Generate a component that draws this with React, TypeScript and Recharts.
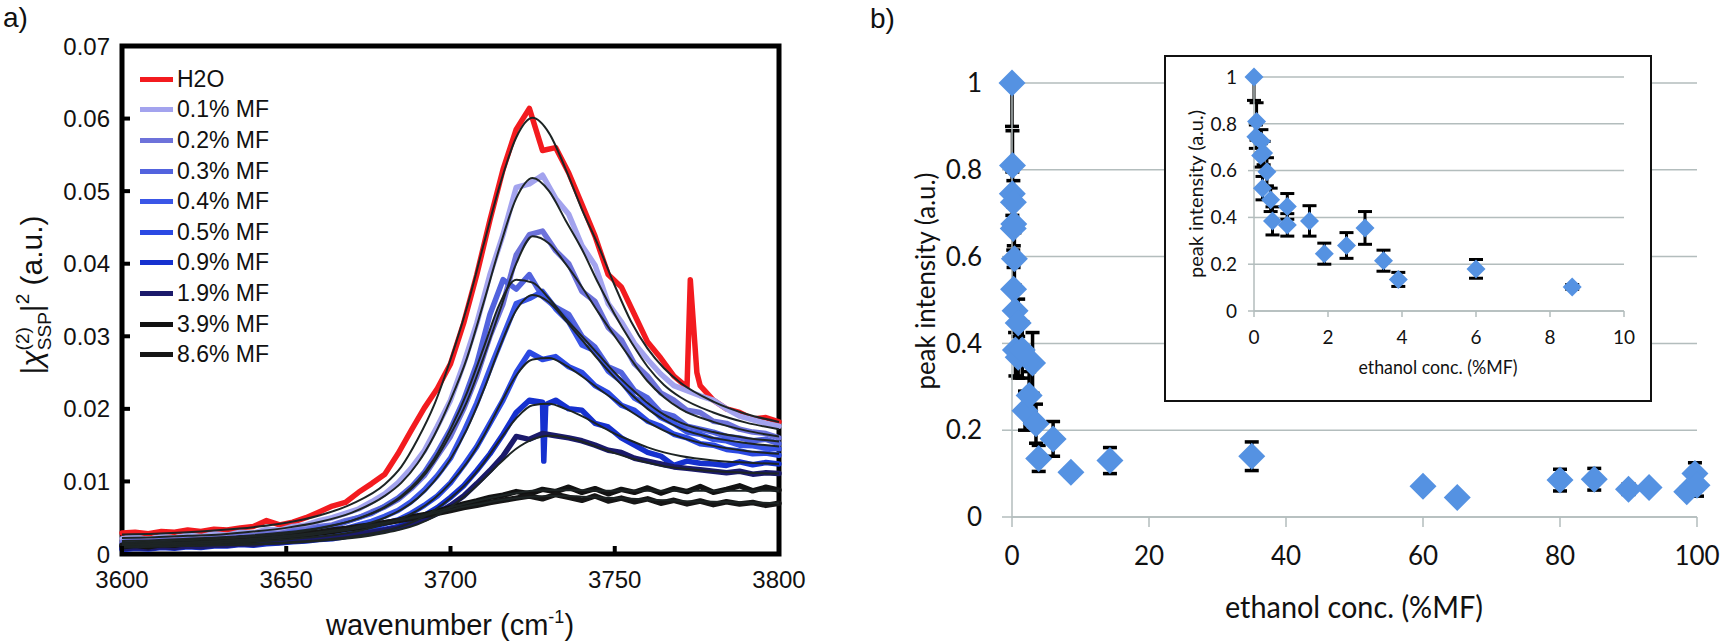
import React from 'react';
import { LineChart, Line, XAxis, YAxis, ScatterChart, Scatter, ErrorBar, CartesianGrid, ReferenceArea } from 'recharts';

// ---- panel a: SFG spectra ----
const wnGrid = [
  3600, 3604, 3608, 3612, 3616, 3620, 3624, 3628, 3632, 3636,
  3640, 3644, 3648, 3652, 3656, 3660, 3664, 3668, 3672, 3676,
  3680, 3684, 3688, 3692, 3696, 3700, 3704, 3708, 3712, 3716,
  3720, 3724, 3728, 3732, 3736, 3740, 3744, 3748, 3752, 3756,
  3760, 3764, 3768, 3772, 3776, 3780, 3784, 3788, 3792, 3796,
  3800,
];
const fitGrid = [
  3600, 3610, 3620, 3630, 3640, 3650, 3660, 3670, 3680, 3685,
  3690, 3695, 3700, 3705, 3710, 3715, 3720, 3725, 3730, 3735,
  3740, 3745, 3750, 3755, 3760, 3765, 3770, 3780, 3790, 3800,
];
const wnTicks = [3600, 3650, 3700, 3750, 3800];
const chiTicks = [0, 0.01, 0.02, 0.03, 0.04, 0.05, 0.06, 0.07];

const seriesNames = ['H2O', '0.1% MF', '0.2% MF', '0.3% MF', '0.4% MF', '0.5% MF', '0.9% MF', '1.9% MF', '3.9% MF', '8.6% MF'];
const seriesColors = ['#f31b1f', '#a3a3ee', '#6d72da', '#5263de', '#3a56e7', '#2b49e3', '#1631cf', '#1b1a6b', '#121212', '#161616'];

const h2oData = [
  .0029, .0030, .0028, .0031, .0030, .0033, .0031, .0034, .0033, .0036,
  .0038, .0046, .0040, .0044, .0050, .0058, .0066, .0071, .0085, .0097,
  .0110, .0138, .0170, .0201, .0228, .0262, .0318, .0385, .0460, .0530,
  .0585, .0614, .0556, .0560, .0525, .0482, .0438, .0385, .0368, .0330,
  .0292, .0270, .0245, .0230, .0232, .0212, .0200, .0195, .0186, .0188,
  .0182,
];
const mf01Data = [
  .0021, .0023, .0020, .0024, .0022, .0026, .0024, .0028, .0026, .0030,
  .0029, .0034, .0033, .0038, .0040, .0046, .0050, .0056, .0062, .0072,
  .0083, .0098, .0118, .0142, .0176, .0212, .0262, .0318, .0385, .0440,
  .0505, .0510, .0522, .0490, .0468, .0425, .0398, .0345, .0320, .0290,
  .0268, .0248, .0232, .0225, .0218, .0212, .0200, .0190, .0185, .0180,
  .0176,
];
const mf02Data = [
  .0016, .0019, .0017, .0020, .0019, .0022, .0020, .0023, .0022, .0026,
  .0025, .0029, .0028, .0032, .0034, .0038, .0040, .0046, .0050, .0058,
  .0065, .0075, .0090, .0108, .0135, .0162, .0200, .0245, .0300, .0345,
  .0412, .0440, .0445, .0418, .0400, .0362, .0348, .0312, .0295, .0262,
  .0245, .0222, .0212, .0198, .0195, .0183, .0180, .0172, .0168, .0166,
  .0160,
];
const mf03Data = [
  .0012, .0015, .0013, .0016, .0015, .0018, .0017, .0020, .0019, .0022,
  .0022, .0025, .0026, .0030, .0031, .0036, .0038, .0044, .0050, .0056,
  .0066, .0077, .0092, .0112, .0140, .0172, .0212, .0262, .0330, .0378,
  .0365, .0385, .0355, .0340, .0330, .0300, .0285, .0258, .0250, .0225,
  .0215, .0195, .0190, .0176, .0172, .0168, .0162, .0160, .0156, .0158,
  .0152,
];
const mf04Data = [
  .0010, .0012, .0011, .0013, .0012, .0015, .0014, .0017, .0016, .0019,
  .0018, .0021, .0022, .0024, .0026, .0029, .0031, .0035, .0040, .0045,
  .0052, .0060, .0072, .0088, .0108, .0132, .0168, .0208, .0255, .0300,
  .0345, .0352, .0362, .0338, .0320, .0288, .0280, .0252, .0238, .0215,
  .0205, .0188, .0180, .0168, .0165, .0158, .0156, .0150, .0149, .0146,
  .0145,
];
const mf05Data = [
  .0008, .0010, .0009, .0011, .0010, .0012, .0012, .0014, .0013, .0016,
  .0015, .0018, .0018, .0021, .0022, .0025, .0026, .0029, .0033, .0036,
  .0042, .0047, .0056, .0067, .0080, .0098, .0122, .0148, .0180, .0212,
  .0250, .0278, .0268, .0272, .0258, .0250, .0232, .0222, .0205, .0198,
  .0183, .0176, .0165, .0160, .0152, .0150, .0144, .0142, .0138, .0139,
  .0136,
];
const mf09Data = [
  .0006, .0008, .0007, .0009, .0008, .0010, .0009, .0011, .0011, .0013,
  .0012, .0014, .0015, .0017, .0018, .0020, .0021, .0024, .0027, .0030,
  .0034, .0038, .0044, .0053, .0064, .0078, .0094, .0115, .0138, .0165,
  .0195, .0212, .0209, .0212, .0200, .0198, .0180, .0175, .0160, .0150,
  .0140, .0135, .0122, .0128, .0125, .0124, .0122, .0127, .0123, .0126,
  .0124,
];
const mf19Data = [
  .0007, .0009, .0008, .0010, .0009, .0011, .0010, .0012, .0012, .0014,
  .0013, .0016, .0016, .0018, .0019, .0021, .0022, .0025, .0027, .0030,
  .0033, .0036, .0042, .0048, .0056, .0067, .0080, .0097, .0115, .0135,
  .0162, .0158, .0166, .0163, .0160, .0156, .0150, .0143, .0140, .0132,
  .0128, .0124, .0120, .0118, .0116, .0114, .0112, .0114, .0110, .0112,
  .0111,
];
const mf39Data = [
  .0010, .0012, .0010, .0013, .0012, .0015, .0014, .0017, .0016, .0019,
  .0019, .0022, .0022, .0025, .0026, .0029, .0031, .0034, .0036, .0040,
  .0043, .0046, .0051, .0054, .0059, .0064, .0069, .0073, .0078, .0081,
  .0086, .0083, .0089, .0086, .0092, .0085, .0090, .0083, .0089, .0085,
  .0091, .0084, .0090, .0086, .0093, .0085, .0089, .0094, .0087, .0092,
  .0088,
];
const mf86Data = [
  .0012, .0013, .0015, .0014, .0016, .0017, .0016, .0019, .0019, .0022,
  .0021, .0024, .0025, .0027, .0029, .0030, .0033, .0035, .0038, .0040,
  .0043, .0046, .0049, .0053, .0056, .0060, .0064, .0067, .0071, .0074,
  .0077, .0080, .0076, .0082, .0078, .0074, .0080, .0073, .0077, .0072,
  .0076, .0070, .0074, .0069, .0073, .0068, .0072, .0069, .0071, .0067,
  .0070,
];
// narrow features that fall between grid points
const h2oSpike = [[3773, .0378], [3775, .0250]];
const mf09Dip = [[3728.4, .0128], [3729, .0206]];

const h2oFit = [.0027, .0028, .0030, .0033, .0037, .0043, .0053, .0069, .0096, .0120, .0158, .0205, .0268, .0340, .0425, .0508, .0574, .0601, .0580, .0531, .0475, .0425, .0370, .0320, .0283, .0256, .0236, .0210, .0193, .0182];
const mf01Fit = [.0022, .0023, .0025, .0027, .0031, .0036, .0044, .0057, .0080, .0098, .0125, .0163, .0212, .0270, .0345, .0423, .0490, .0518, .0500, .0460, .0420, .0373, .0330, .0292, .0258, .0233, .0216, .0195, .0181, .0172];
const mf02Fit = [.0018, .0019, .0021, .0023, .0026, .0030, .0036, .0046, .0064, .0078, .0098, .0127, .0165, .0210, .0270, .0335, .0400, .0438, .0428, .0400, .0368, .0333, .0300, .0268, .0238, .0216, .0200, .0182, .0170, .0162];
const mf03Fit = [.0016, .0017, .0019, .0021, .0024, .0028, .0035, .0046, .0065, .0080, .0101, .0131, .0172, .0222, .0283, .0345, .0378, .0374, .0352, .0325, .0300, .0275, .0250, .0228, .0208, .0192, .0181, .0168, .0160, .0155];
const mf04Fit = [.0014, .0015, .0016, .0018, .0020, .0023, .0028, .0036, .0050, .0061, .0077, .0100, .0131, .0172, .0225, .0285, .0336, .0357, .0347, .0322, .0295, .0268, .0243, .0220, .0200, .0185, .0173, .0160, .0153, .0148];
const mf05Fit = [.0012, .0013, .0014, .0015, .0017, .0020, .0024, .0030, .0041, .0049, .0060, .0076, .0098, .0126, .0162, .0205, .0246, .0268, .0270, .0260, .0245, .0228, .0212, .0196, .0182, .0170, .0161, .0149, .0142, .0138];
const mf09Fit = [.0010, .0011, .0012, .0013, .0014, .0016, .0019, .0024, .0032, .0038, .0047, .0060, .0077, .0098, .0125, .0157, .0187, .0205, .0207, .0200, .0190, .0178, .0166, .0156, .0147, .0140, .0135, .0129, .0126, .0124];
const mf19Fit = [.0009, .0010, .0011, .0012, .0013, .0015, .0018, .0022, .0029, .0034, .0041, .0051, .0065, .0082, .0103, .0125, .0145, .0158, .0163, .0161, .0155, .0147, .0139, .0132, .0126, .0121, .0118, .0114, .0112, .0111];
const mf39Fit = [.0010, .0012, .0014, .0016, .0019, .0023, .0028, .0034, .0042, .0047, .0052, .0058, .0064, .0070, .0075, .0080, .0084, .0087, .0088, .0088, .0088, .0087, .0087, .0087, .0087, .0087, .0087, .0087, .0087, .0087];
const mf86Fit = [.0012, .0014, .0016, .0018, .0021, .0025, .0030, .0036, .0043, .0047, .0051, .0056, .0061, .0066, .0070, .0074, .0077, .0079, .0080, .0080, .0079, .0078, .0077, .0076, .0075, .0074, .0073, .0072, .0071, .0070];

const measured = [h2oData, mf01Data, mf02Data, mf03Data, mf04Data, mf05Data, mf09Data, mf19Data, mf39Data, mf86Data];
const extras: number[][][] = [h2oSpike, [], [], [], [], [], mf09Dip, [], [], []];
const fits = [h2oFit, mf01Fit, mf02Fit, mf03Fit, mf04Fit, mf05Fit, mf09Fit, mf19Fit, mf39Fit, mf86Fit];

// ---- panel b: peak intensity vs ethanol ----
const concX = [0, 0.07, 0.05, 0.2, 0.18, 0.26, 0.35, 0.23, 0.45, 0.5, 0.9, 0.9, 1.5, 1.9, 2.5, 3.0, 3.5, 3.9, 6.0, 8.6, 14.3, 35, 60, 65, 80, 85, 90, 93, 98.5, 99.7, 100];
const peakY = [1.0, 0.81, 0.745, 0.725, 0.665, 0.675, 0.595, 0.525, 0.475, 0.385, 0.447, 0.368, 0.385, 0.245, 0.28, 0.355, 0.215, 0.135, 0.18, 0.103, 0.13, 0.14, 0.071, 0.045, 0.085, 0.087, 0.064, 0.068, 0.058, 0.1, 0.073];
const peakErr = [[0.1, 0], [0.08, 0.08], [0.05, 0.05], [0.05, 0.05], [0.05, 0.05], [0.05, 0.05], [0.06, 0.06], [0.05, 0.05], [0.05, 0.05], [0.06, 0.06], [0.055, 0.055], [0.048, 0.048], [0.065, 0.065], [0.045, 0.045], [0.055, 0.055], [0.07, 0.07], [0.045, 0.045], [0.03, 0.03], [0.04, 0.04], [0.01, 0.01], [0.03, 0.03], [0.033, 0.033], [0.01, 0.01], [0.008, 0.008], [0.025, 0.025], [0.025, 0.025], [0.012, 0.012], [0.01, 0.01], [0.01, 0.01], [0.025, 0.025], [0.025, 0.025]];
const mainXTicks = [0, 20, 40, 60, 80, 100];
const insetXTicks = [0, 2, 4, 6, 8, 10];
const peakTicks = [0, 0.2, 0.4, 0.6, 0.8, 1];

const FONT_A = "'Liberation Sans', Arial, sans-serif";
const FONT_B = "Lato, 'Open Sans', sans-serif";
const FIT = '#1d2424';
const GRID = '#b3bdbd';
const BLUE = '#5592e2';

const points = concX.map((x, i) => ({ x, y: peakY[i], err: peakErr[i] }));
const insetPoints = points.filter((p) => p.x <= 10);

const buildSeries = (vals: number[], extra: number[][]) =>
  [...wnGrid.map((w, i) => ({ w, v: vals[i] })), ...extra.map(([w, v]) => ({ w, v }))].sort((a, b) => a.w - b.w);

const diamond = (r: number) => (p: any) => {
  const { cx, cy } = p;
  if (cx == null || cy == null) return <g />;
  return <polygon points={`${cx},${cy - r} ${cx + r},${cy} ${cx},${cy + r} ${cx - r},${cy}`} fill={BLUE} />;
};

const frameTick = { stroke: '#000', strokeWidth: 4 };
const blank = () => '';

function SpectraChart() {
  return (
    <LineChart width={860} height={644} margin={{ top: 45, right: 80, bottom: 30, left: 0 }}>
      <XAxis dataKey="w" type="number" domain={[3600, 3800]} ticks={wnTicks} height={60}
        axisLine={false} tickLine={frameTick} tickSize={-8} tickMargin={25}
        tick={{ fontSize: 24, fontFamily: FONT_A, fill: '#111' }} />
      <XAxis xAxisId="top" orientation="top" type="number" domain={[3600, 3800]} ticks={[3650, 3700, 3750]}
        height={1} axisLine={false} tickLine={frameTick} tickSize={-8} tickFormatter={blank} />
      <YAxis type="number" domain={[0, 0.07]} ticks={chiTicks} width={122}
        axisLine={false} tickLine={frameTick} tickSize={-8} tickMargin={20}
        tickFormatter={(v: number) => (v === 0 ? '0' : v.toFixed(2))}
        tick={{ fontSize: 24, fontFamily: FONT_A, fill: '#111' }} />
      <YAxis yAxisId="right" orientation="right" type="number" domain={[0, 0.07]} ticks={[0.01, 0.02, 0.03, 0.04, 0.05, 0.06]}
        width={1} axisLine={false} tickLine={frameTick} tickSize={-8} tickFormatter={blank} />
      {measured.map((vals, i) => (
        <Line key={seriesNames[i]} data={buildSeries(vals, extras[i])} dataKey="v" type="linear"
          stroke={seriesColors[i]} strokeWidth={5.5} strokeLinejoin="round" strokeLinecap="round"
          dot={false} isAnimationActive={false} />
      ))}
      {fits.map((vals, i) => (
        <Line key={'fit' + i} data={fitGrid.map((w, j) => ({ w, v: vals[j] }))} dataKey="v" type="monotone"
          stroke={FIT} strokeWidth={2} dot={false} isAnimationActive={false} />
      ))}
      <ReferenceArea x1={3600} x2={3800} y1={0} y2={0.07} fill="none" stroke="#000" strokeWidth={5} ifOverflow="visible" />
    </LineChart>
  );
}

function SpectraLegend() {
  return (
    <div style={{ position: 'absolute', left: 140, top: 64, fontFamily: FONT_A, fontSize: 23, color: '#111' }}>
      {seriesNames.map((name, i) => (
        <div key={name} style={{ display: 'flex', alignItems: 'center', height: 30.6 }}>
          <span style={{ display: 'inline-block', width: 33, height: 5, background: seriesColors[i], marginRight: 4 }} />
          <span>{name}</span>
        </div>
      ))}
    </div>
  );
}

const tickB = { fontSize: 26, fontFamily: FONT_B, fill: '#111' };
const tickInset = { fontSize: 19, fontFamily: FONT_B, fill: '#111' };
const gridAxis = { stroke: GRID, strokeWidth: 1.5 };

function IntensityChart() {
  return (
    <ScatterChart width={844} height={644} margin={{ top: 83, right: 27, bottom: 67, left: 0 }}>
      <CartesianGrid vertical={false} stroke={GRID} strokeWidth={1.5} />
      <XAxis dataKey="x" type="number" domain={[0, 100]} ticks={mainXTicks} height={60}
        axisLine={gridAxis} tickLine={gridAxis} tickSize={10} tickMargin={20} tick={tickB} />
      <YAxis dataKey="y" type="number" domain={[0, 1]} ticks={peakTicks} width={132}
        axisLine={gridAxis} tickLine={gridAxis} tickSize={10} tickMargin={20} tick={tickB} />
      <Scatter data={points} shape={diamond(13.5)} fill={BLUE} isAnimationActive={false}>
        <ErrorBar dataKey="err" direction="y" width={7} stroke="#000" strokeWidth={3.5} />
      </Scatter>
    </ScatterChart>
  );
}

function InsetChart() {
  return (
    <ScatterChart width={484} height={343} margin={{ top: 20, right: 26, bottom: 39, left: 0 }}>
      <CartesianGrid vertical={false} stroke={GRID} strokeWidth={1.5} />
      <XAxis dataKey="x" type="number" domain={[0, 10]} ticks={insetXTicks} height={50}
        axisLine={gridAxis} tickLine={gridAxis} tickSize={6} tickMargin={14} tick={tickInset} />
      <YAxis dataKey="y" type="number" domain={[0, 1]} ticks={peakTicks} width={88}
        axisLine={gridAxis} tickLine={gridAxis} tickSize={6} tickMargin={11} tick={tickInset} />
      <Scatter data={insetPoints} shape={diamond(9.5)} fill={BLUE} isAnimationActive={false}>
        <ErrorBar dataKey="err" direction="y" width={7} stroke="#000" strokeWidth={3} />
      </Scatter>
    </ScatterChart>
  );
}

function Titles() {
  return (
    <svg width={1724} height={644} style={{ position: 'absolute', left: 0, top: 0, pointerEvents: 'none' }}>
      <text x={3} y={27} fontFamily={FONT_A} fontSize={28} fill="#111">a)</text>
      <text x={870} y={28} fontFamily={FONT_A} fontSize={28} fill="#111">b)</text>

      <text x={450} y={635} textAnchor="middle" fontFamily={FONT_A} fontSize={29} fill="#111">
        wavenumber (cm<tspan fontSize={18} dy={-12}>-1</tspan><tspan dy={12}>)</tspan>
      </text>
      <text transform="translate(42,295) rotate(-90)" textAnchor="middle" fontFamily={FONT_A} fontSize={30} fill="#111">
        <tspan>|</tspan>
        <tspan fontStyle="italic">χ</tspan>
        <tspan fontSize={19} dy={-13}>(2)</tspan>
        <tspan fontSize={19} dx={-23} dy={22}>SSP</tspan>
        <tspan dy={-9}>|</tspan>
        <tspan fontSize={19} dy={-13}>2</tspan>
        <tspan dy={13}>{'\u00a0(a.u.)'}</tspan>
      </text>

      <text x={1354} y={618} textAnchor="middle" fontFamily={FONT_B} fontSize={30} fill="#111"
        textLength={258} lengthAdjust="spacingAndGlyphs">ethanol conc. (%MF)</text>
      <text transform="translate(935,281) rotate(-90)" textAnchor="middle" fontFamily={FONT_B} fontSize={26} fill="#111"
        textLength={217} lengthAdjust="spacingAndGlyphs">peak intensity (a.u.)</text>

      <text x={1438} y={374} textAnchor="middle" fontFamily={FONT_B} fontSize={20} fill="#111"
        textLength={159} lengthAdjust="spacingAndGlyphs">ethanol conc. (%MF)</text>
      <text transform="translate(1203,194) rotate(-90)" textAnchor="middle" fontFamily={FONT_B} fontSize={20} fill="#111"
        textLength={168} lengthAdjust="spacingAndGlyphs">peak intensity (a.u.)</text>
    </svg>
  );
}

export default function App() {
  return (
    <div style={{ position: 'relative', width: 1724, height: 644, background: '#fff', overflow: 'hidden' }}>
      <style>{'body{margin:0}'}</style>
      <div style={{ position: 'absolute', left: 0, top: 0 }}>
        <SpectraChart />
      </div>
      <SpectraLegend />
      <div style={{ position: 'absolute', left: 880, top: 0 }}>
        <IntensityChart />
      </div>
      <div style={{ position: 'absolute', left: 1164, top: 55, width: 488, height: 347, boxSizing: 'border-box', border: '2px solid #111', background: '#fff' }}>
        <InsetChart />
      </div>
      <Titles />
    </div>
  );
}
